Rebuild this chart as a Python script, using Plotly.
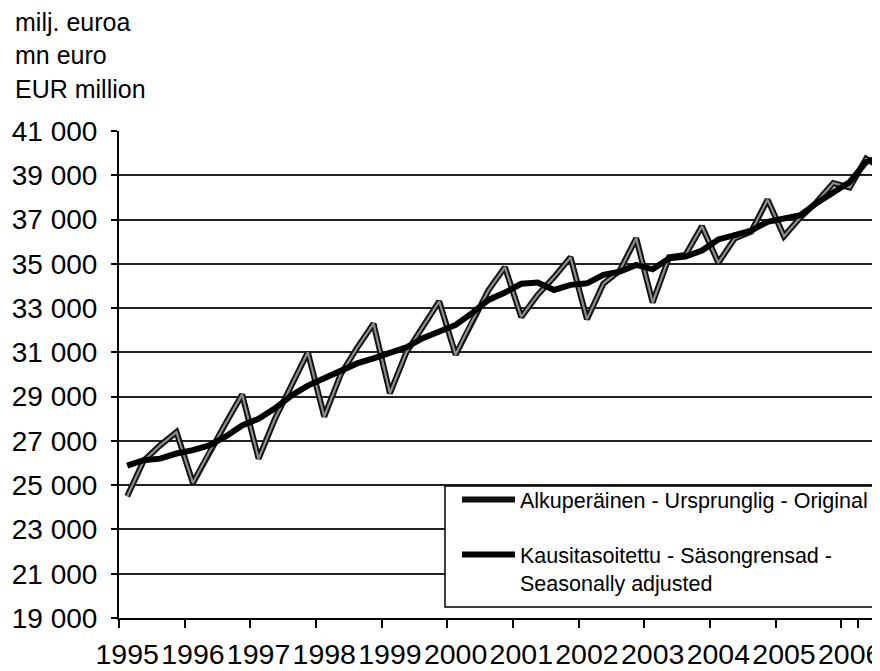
import plotly.graph_objects as go

# ---------------- data ----------------
years = [1995, 1996, 1997, 1998, 1999, 2000, 2001, 2002, 2003, 2004, 2005, 2006]
quarters = [f"{y}Q{q}" for y in years for q in (1, 2, 3, 4)][:47]  # 1995Q1 .. 2006Q3

original = [
    24500, 26100, 26800, 27400,   # 1995
    25100, 26500, 27800, 29100,   # 1996
    26200, 28000, 29500, 31000,   # 1997
    28100, 30000, 31200, 32300,   # 1998
    29150, 31000, 32150, 33300,   # 1999
    30900, 32400, 33800, 34850,   # 2000
    32600, 33600, 34400, 35300,   # 2001
    32500, 34100, 34700, 36150,   # 2002
    33250, 35300, 35400, 36700,   # 2003
    35050, 36150, 36450, 37900,   # 2004
    36250, 37100, 37800, 38650,   # 2005
    38450, 39750, 39300,          # 2006
]
seasonally_adjusted = [
    25880, 26130, 26200, 26430,
    26580, 26800, 27200, 27700,
    28000, 28470, 29050, 29500,
    29830, 30200, 30500, 30730,
    30960, 31230, 31640, 31940,
    32240, 32770, 33370, 33700,
    34100, 34150, 33820, 34050,
    34120, 34500, 34650, 34950,
    34750, 35250, 35330, 35600,
    36100, 36300, 36500, 36900,
    37050, 37200, 37750, 38250,
    38700, 39600, 39850,
]
year_labels = [str(y) for y in years]
year_first_quarters = [f"{y}Q1" for y in years]
y_ticks = list(range(19000, 41001, 2000))

name_orig = "Alkuperäinen - Ursprunglig - Original"
name_sa = "Kausitasoitettu - Säsongrensad -<br>Seasonally adjusted"
unit_lines = ["milj. euroa", "mn euro", "EUR million"]

# ---------------- layout geometry ----------------
# The page places the figure 8px from the top-left corner (body margin),
# so the figure is made 8px smaller and every page position shifted.
OFF = 8
PAGE_W, PAGE_H = 880, 671
W, H = PAGE_W - OFF, PAGE_H - OFF
PLOT_L, PLOT_R, PLOT_T, PLOT_B = 119, 880, 131, 618   # page pixels
ML = PLOT_L - OFF
MR = W - (PLOT_R - OFF)
MT = PLOT_T - OFF
MB = H - (PLOT_B - OFF)
PW, PH = W - ML - MR, H - MT - MB
QUARTER_PX = 16.42
FONT = "Liberation Sans, Arial, Helvetica, sans-serif"


def px_x(x):
    return (x - PLOT_L) / PW


def px_y(y):
    return (PLOT_B - y) / PH


fig = go.Figure()

fig.add_trace(go.Scatter(
    x=quarters, y=original, mode="lines", name=name_orig,
    line=dict(color="#111111", width=6), legendgroup="a",
))
fig.add_trace(go.Scatter(
    x=quarters, y=original, mode="lines", showlegend=False,
    line=dict(color="#8c8c8c", width=2.2), legendgroup="a", hoverinfo="skip",
))
fig.add_trace(go.Scatter(
    x=quarters, y=seasonally_adjusted, mode="lines", name=name_sa,
    line=dict(color="#000000", width=6), legendgroup="b",
))

# legend frame (extends past the right edge like the reference)
fig.add_shape(type="rect", xref="paper", yref="paper",
              x0=px_x(445), x1=px_x(900), y0=px_y(607), y1=px_y(486),
              fillcolor="white", line=dict(color="black", width=1.5),
              layer="above")

for i, t in enumerate(unit_lines):
    fig.add_annotation(text=t, xref="paper", yref="paper",
                       x=px_x(13), y=px_y([22, 55, 89][i]),
                       xanchor="left", yanchor="middle", showarrow=False,
                       font=dict(family=FONT, size=25, color="black"))

fig.update_layout(
    width=W, height=H,
    margin=dict(l=ML, r=MR, t=MT, b=MB, pad=0, autoexpand=False),
    paper_bgcolor="white", plot_bgcolor="white",
    separators=", ",
    font=dict(family=FONT, color="black"),
    showlegend=True,
    legend=dict(
        xref="container", yref="container",
        x=(457 - OFF) / W, y=1 - (479 - OFF) / H, xanchor="left", yanchor="top",
        bgcolor="rgba(0,0,0,0)", borderwidth=0,
        font=dict(family=FONT, size=21.5, color="black"),
        itemwidth=53, tracegroupgap=24, valign="top",
        traceorder="grouped",
    ),
    xaxis=dict(
        type="category", categoryorder="array", categoryarray=quarters,
        range=[-0.5, -0.5 + PW / QUARTER_PX],
        tickmode="array", tickvals=year_first_quarters, ticktext=year_labels,
        tickson="boundaries", ticks="outside", ticklen=8, tickwidth=1.5,
        tickcolor="black", showgrid=False, showline=True, linecolor="black",
        linewidth=2, tickfont=dict(family=FONT, size=28.5, color="black"),
        tickangle=0, ticklabelstandoff=10, zeroline=False, automargin=False,
    ),
    yaxis=dict(
        range=[19000, 41000], tickmode="array", tickvals=y_ticks,
        tickformat=",", ticks="outside", ticklen=6, tickwidth=1.5,
        tickcolor="black", showgrid=True, gridcolor="#222222", gridwidth=1.5,
        showline=True, linecolor="black", linewidth=2, zeroline=False,
        tickfont=dict(family=FONT, size=28, color="black"),
        ticklabelstandoff=8, automargin=False,
    ),
)

fig.write_html("out.html")
